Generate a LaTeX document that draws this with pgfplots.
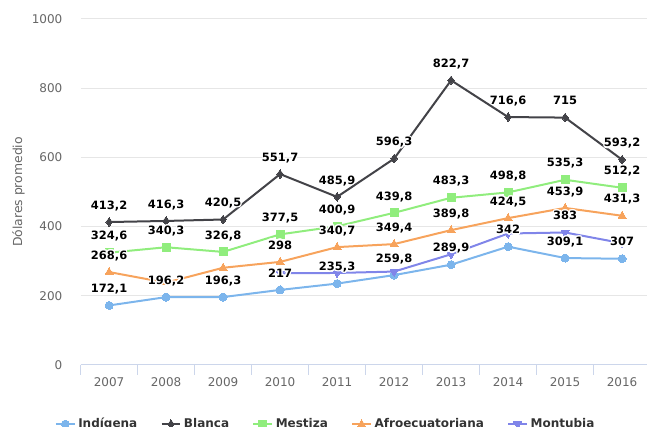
\documentclass[border=0pt]{standalone}
\usepackage{pgfplots}
\pgfplotsset{compat=1.18}
\usepackage{pgfplotstable}
\usepackage{fontspec}
\setmainfont{DejaVu Sans}
\usepackage{contour}
\contourlength{0.9pt}
\contournumber{16}

\definecolor{cInd}{HTML}{7CB5EC}
\definecolor{cBla}{HTML}{434348}
\definecolor{cMes}{HTML}{90ED7D}
\definecolor{cAfr}{HTML}{F7A35C}
\definecolor{cMon}{HTML}{8085E9}
\definecolor{cAxis}{HTML}{CCD6EB}
\definecolor{cGrid}{HTML}{E6E6E6}
\definecolor{cTick}{HTML}{666666}
\definecolor{cLeg}{HTML}{333333}

\pgfplotstableread{
x y lab
0 172.1 {172,1}
1 196.2 {196,2}
2 196.3 {196,3}
3 217.0 {217}
4 235.3 {235,3}
5 259.8 {259,8}
6 289.9 {289,9}
7 342.0 {342}
8 309.1 {309,1}
9 307.0 {307}
}\indigena

\pgfplotstableread{
x y lab
0 413.2 {413,2}
1 416.3 {416,3}
2 420.5 {420,5}
3 551.7 {551,7}
4 485.9 {485,9}
5 596.3 {596,3}
6 822.7 {822,7}
7 716.6 {716,6}
8 715.0 {715}
9 593.2 {593,2}
}\blanca

\pgfplotstableread{
x y lab
0 324.6 {324,6}
1 340.3 {340,3}
2 326.8 {326,8}
3 377.5 {377,5}
4 400.9 {400,9}
5 439.8 {439,8}
6 483.3 {483,3}
7 498.8 {498,8}
8 535.3 {535,3}
9 512.2 {512,2}
}\mestiza

\pgfplotstableread{
x y lab
0 268.6 {268,6}
1 238.0 {}
2 281.0 {}
3 298.0 {298}
4 340.7 {340,7}
5 349.4 {349,4}
6 389.8 {389,8}
7 424.5 {424,5}
8 453.9 {453,9}
9 431.3 {431,3}
}\afro

\pgfplotstableread{
x y lab
3 265.0 {}
4 266.0 {}
5 270.0 {}
6 320.0 {}
7 380.0 {}
8 383.0 {383}
9 352.0 {}
}\montubia

\pgfplotsset{
  lbl/.style={draw=none, mark=none, forget plot, point meta=explicit symbolic,
    nodes near coords={\contour{white}{\pgfplotspointmeta}},
    every node near coord/.append style={font=\bfseries\fontsize{8.6}{10}\selectfont, text=black, anchor=base, yshift=9.6pt, inner sep=0pt}},
}

\begin{document}
\begin{tikzpicture}
\begin{axis}[
  at={(60.45pt,46.5pt)}, anchor=south west,
  scale only axis, width=427.5pt, height=259.5pt,
  xmin=-0.5, xmax=9.5, ymin=0, ymax=1000,
  axis x line*=bottom, axis y line*=left,
  y axis line style={draw=none},
  x axis line style={draw=cAxis, line width=0.75pt},
  xtick={0,...,9},
  xticklabels={2007,2008,2009,2010,2011,2012,2013,2014,2015,2016},
  minor xtick={-0.5,0.5,...,9.5},
  major tick length=0pt,
  minor tick length=7.5pt,
  tick align=outside,
  tick style={draw=cAxis, line width=0.75pt},
  ytick={0,200,400,600,800,1000},
  yticklabels={0,200,400,600,800,1000},
  ymajorgrids,
  grid style={draw=cGrid, line width=0.75pt},
  ticklabel style={font=\fontsize{9}{10}\selectfont, text=cTick},
  xticklabel style={anchor=base, inner sep=0pt, yshift=-16.3pt},
  yticklabel style={anchor=east, inner sep=0pt, xshift=-13.5pt},
  ylabel={Dólares promedio},
  every axis y label/.style={at={(axis description cs:-0.109,0.5)}, rotate=90, anchor=center, font=\fontsize{9.3}{11}\selectfont, text=cTick},
  every axis plot/.append style={line width=1.5pt},
  legend columns=5,
  legend style={at={(axis description cs:0.4305,-0.171)}, anchor=center, draw=none, fill=none,
    font=\bfseries\fontsize{9}{11}\selectfont, text=cLeg,
    /tikz/every even column/.append style={column sep=15.5pt}},
  legend image code/.code={\draw[mark repeat=2,mark phase=2,#1] plot coordinates {(0pt,0pt) (7pt,0pt) (14pt,0pt)};},
]
\addplot[color=cInd, mark=*, mark size=3pt, mark options={draw=cInd, fill=cInd, line width=0pt}] table[x=x,y=y] {\indigena};
\addlegendentry{Indígena}
\addplot[color=cBla, mark=diamond*, mark size=3.2pt, mark options={draw=cBla, fill=cBla, line width=0pt}] table[x=x,y=y] {\blanca};
\addlegendentry{Blanca}
\addplot[color=cMes, mark=square*, mark size=3pt, mark options={draw=cMes, fill=cMes, line width=0pt}] table[x=x,y=y] {\mestiza};
\addlegendentry{Mestiza}
\addplot[color=cAfr, mark=triangle*, mark size=3.4pt, mark options={draw=cAfr, fill=cAfr, line width=0pt}] table[x=x,y=y] {\afro};
\addlegendentry{Afroecuatoriana}
\addplot[color=cMon, mark=triangle*, mark size=3.4pt, mark options={draw=cMon, fill=cMon, line width=0pt, rotate=180}] table[x=x,y=y] {\montubia};
\addlegendentry{Montubia}
\addplot[lbl] table[x=x,y=y,meta=lab] {\indigena};
\addplot[lbl] table[x=x,y=y,meta=lab] {\blanca};
\addplot[lbl] table[x=x,y=y,meta=lab] {\mestiza};
\addplot[lbl] table[x=x,y=y,meta=lab] {\afro};
\addplot[lbl] table[x=x,y=y,meta=lab] {\montubia};
\end{axis}
\pgfresetboundingbox
\path[use as bounding box] (0pt,0pt) rectangle (485.25pt,320.25pt);
\end{tikzpicture}
\end{document}
